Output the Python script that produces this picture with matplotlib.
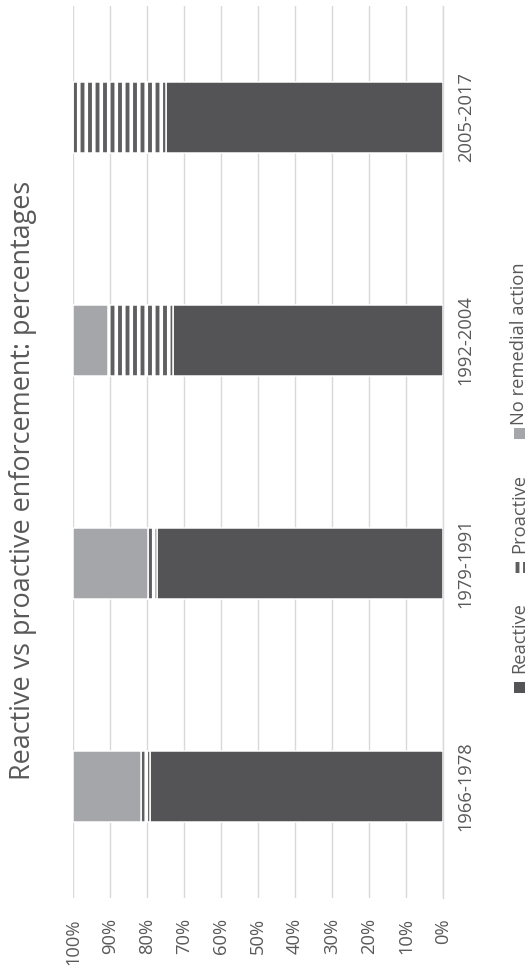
import matplotlib
matplotlib.use("Agg")
import matplotlib.pyplot as plt
from matplotlib.patches import Rectangle

# ---- data ----
categories = ["1966-1978", "1979-1991", "1992-2004", "2005-2017"]
reactive = [79.3, 77.4, 73.0, 75.0]
proactive = [2.4, 2.3, 17.6, 25.0]
no_remedial = [18.3, 20.3, 9.4, 0.0]
value_ticks = [0, 10, 20, 30, 40, 50, 60, 70, 80, 90, 100]
value_labels = [f"{v}%" for v in value_ticks]
series_names = ["Reactive", "Proactive", "No remedial action"]
title = "Reactive vs proactive enforcement: percentages"

# ---- style ----
DPI = 90
W, H = 529, 970
FONT = "Open Sans"
TXT = "#595959"
C_REACT = "#545456"
C_PRO = "#5f5f61"
C_NONE = "#a5a6a9"
GRID = "#d9d9d9"

plt.rcParams["font.family"] = [FONT, "DejaVu Sans"]
plt.rcParams["hatch.linewidth"] = 2.9

fig = plt.figure(figsize=(W / DPI, H / DPI), dpi=DPI)
ax = fig.add_axes([73 / W, 1 - 898 / H, 370 / W, 892 / H])

ypos = list(range(len(categories)))
bh = 0.314
left2 = [r + p for r, p in zip(reactive, proactive)]
ax.barh(ypos, reactive, height=bh, left=0, color=C_REACT, edgecolor="white", linewidth=1.2, zorder=3)
ax.barh(ypos, proactive, height=bh, left=reactive, color=C_PRO, edgecolor="white", linewidth=1.2,
        hatch="||", zorder=3)
ax.barh(ypos, no_remedial, height=bh, left=left2, color=C_NONE, edgecolor="white", linewidth=1.2, zorder=3)

ax.set_xlim(100, 0)
ax.set_ylim(-0.5, len(categories) - 0.5)
ax.set_xticks(value_ticks)
ax.set_xticklabels(value_labels, rotation=90, color=TXT, fontsize=14.7)
ax.set_yticks(ypos)
ax.set_yticklabels(categories, rotation=90, va="center", color=TXT, fontsize=14.7)
ax.yaxis.tick_right()
ax.tick_params(axis="x", length=0, pad=16)
ax.tick_params(axis="y", length=0, pad=11)
ax.grid(axis="x", color=GRID, linewidth=1.1, zorder=0)
ax.set_axisbelow(True)
for s in ["top", "bottom", "left"]:
    ax.spines[s].set_visible(False)
ax.spines["right"].set_color(GRID)
ax.spines["right"].set_linewidth(1.1)

# title (rotated chart)
fig.text(23 / W, 1 - 480 / H, title, rotation=90, ha="center", va="center",
         color=TXT, fontsize=21.6)

# manual rotated legend
leg_x = 519
items = [
    (series_names[0], C_REACT, None, 682, 673),
    (series_names[1], C_PRO, "||", 562, 553),
    (series_names[2], C_NONE, None, 428, 425),
]
for name, col, hatch, sq_top, txt_bottom in items:
    sq = 11
    rect = Rectangle(((leg_x - sq / 2) / W, 1 - (sq_top + sq) / H), sq / W, sq / H,
                     transform=fig.transFigure, facecolor=col,
                     edgecolor="white" if hatch else col, linewidth=0, hatch=hatch)
    fig.add_artist(rect)
    fig.text(leg_x / W, 1 - txt_bottom / H, name, rotation=90, ha="center", va="bottom",
             color=TXT, fontsize=14.7)

fig.savefig("out.png", dpi=DPI)
